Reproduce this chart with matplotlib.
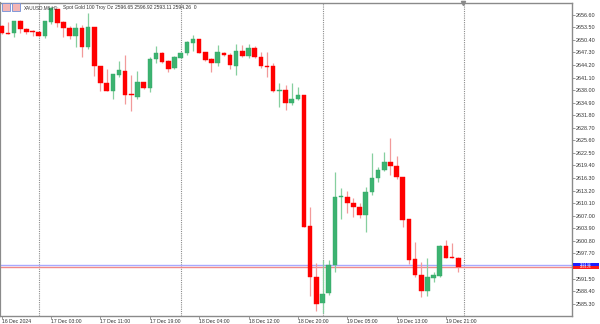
"""
XAUUSD H1 캔들 차트 재현 (MT5 스타일)
- OHLC 값은 스크린샷에서 읽은 값
- 결과: out.png (600x324)
"""

import numpy as np
import matplotlib

matplotlib.use("Agg")
import matplotlib.pyplot as plt
from matplotlib.patches import Rectangle
from matplotlib.transforms import blended_transform_factory

# ── 데이터 (16 Dec 18:00 ~ 19 Dec 23:00, 1시간봉 75개) ──
opens = [2653.82, 2652.02, 2652.02, 2655.05, 2653.00, 2652.51, 2652.34, 2651.42, 2654.88, 2657.94,
         2654.73, 2653.40, 2651.42, 2653.40, 2648.56, 2653.57, 2644.02, 2639.68, 2637.85, 2641.73,
         2642.79, 2636.75, 2636.37, 2639.93, 2638.45, 2645.67, 2647.08, 2645.18, 2643.38, 2645.99,
         2647.23, 2649.70, 2650.68, 2647.33, 2645.60, 2644.76, 2647.15, 2646.59, 2643.95, 2647.65,
         2646.49, 2648.31, 2646.09, 2643.90, 2643.87, 2637.78, 2638.03, 2634.75, 2635.73, 2636.79,
         2604.48, 2591.97, 2585.41, 2587.87, 2594.86, 2611.63, 2611.70, 2610.07, 2609.09, 2607.11,
         2612.79, 2616.39, 2618.29, 2620.19, 2619.35, 2616.64, 2606.13, 2596.33, 2592.39, 2588.52,
         2591.58, 2592.22, 2599.62, 2596.66, 2596.65]
highs = [2654.00, 2654.88, 2655.17, 2655.30, 2653.32, 2652.83, 2652.34, 2655.17, 2658.43, 2658.01,
         2655.05, 2653.82, 2654.48, 2654.06, 2656.95, 2653.57, 2644.02, 2643.14, 2641.97, 2645.18,
         2646.66, 2641.73, 2642.71, 2640.10, 2646.24, 2648.88, 2647.33, 2645.43, 2646.40, 2647.40,
         2650.20, 2651.60, 2650.68, 2647.33, 2645.85, 2649.13, 2647.40, 2647.08, 2649.38, 2649.13,
         2649.38, 2649.00, 2647.33, 2647.33, 2644.61, 2639.68, 2639.26, 2639.68, 2638.84, 2636.79,
         2609.24, 2595.27, 2596.00, 2596.09, 2617.87, 2613.77, 2613.11, 2611.31, 2610.22, 2614.02,
         2622.41, 2618.96, 2622.81, 2626.11, 2621.75, 2616.64, 2606.13, 2600.60, 2595.67, 2596.51,
         2593.20, 2599.80, 2601.02, 2600.21, 2596.92]
lows = [2651.90, 2651.72, 2651.10, 2652.02, 2651.77, 2651.35, 2651.35, 2650.78, 2654.31, 2653.50,
        2651.03, 2650.61, 2648.71, 2646.09, 2648.07, 2641.48, 2637.85, 2637.85, 2635.81, 2641.16,
        2634.50, 2632.85, 2635.73, 2638.30, 2637.61, 2644.76, 2644.76, 2642.50, 2643.10, 2645.80,
        2646.70, 2647.72, 2647.10, 2645.30, 2642.39, 2643.87, 2646.40, 2643.14, 2641.73, 2646.24,
        2645.85, 2645.85, 2643.38, 2641.31, 2637.61, 2633.76, 2633.09, 2634.33, 2635.56, 2604.30,
        2587.21, 2583.60, 2582.90, 2587.40, 2593.20, 2606.13, 2607.61, 2606.77, 2606.37, 2603.07,
        2612.12, 2615.40, 2618.12, 2617.06, 2616.00, 2604.30, 2595.10, 2591.97, 2586.89, 2587.21,
        2590.74, 2592.00, 2596.51, 2596.51, 2593.11]
closes = [2652.09, 2651.77, 2655.12, 2653.08, 2652.41, 2652.41, 2651.42, 2655.05, 2658.18, 2654.63,
          2653.40, 2651.42, 2653.40, 2648.56, 2653.50, 2644.02, 2639.68, 2637.85, 2641.97, 2642.89,
          2636.79, 2636.68, 2639.93, 2638.59, 2645.67, 2647.08, 2645.01, 2643.14, 2646.09, 2647.23,
          2649.79, 2650.68, 2647.23, 2645.43, 2644.76, 2647.33, 2646.59, 2644.27, 2647.72, 2646.49,
          2648.39, 2646.09, 2643.95, 2643.80, 2637.78, 2638.03, 2634.75, 2635.73, 2636.79, 2604.30,
          2591.97, 2585.16, 2587.70, 2594.86, 2611.70, 2611.88, 2610.22, 2609.09, 2607.11, 2612.79,
          2616.39, 2618.29, 2620.27, 2619.35, 2616.64, 2605.96, 2596.09, 2592.39, 2588.52, 2591.82,
          2592.39, 2599.62, 2596.66, 2596.51, 2594.26]

x_tick_pos = [0, 8, 16, 24, 32, 40, 48, 56, 64, 72]
x_tick_labels = ["16 Dec 2024", "17 Dec 03:00", "17 Dec 11:00", "17 Dec 19:00", "18 Dec 04:00",
                 "18 Dec 12:00", "18 Dec 20:00", "19 Dec 05:00", "19 Dec 13:00", "19 Dec 21:00"]
day_breaks = [6, 29, 52, 75]  # 각 날짜 01:00 봉

y_ticks = [2656.60, 2653.50, 2650.40, 2647.30, 2644.20, 2641.10, 2638.00, 2634.90, 2631.80,
           2628.70, 2625.60, 2622.50, 2619.40, 2616.30, 2613.20, 2610.10, 2607.00, 2603.90,
           2600.80, 2597.70, 2591.50, 2588.40, 2585.30]

ask_price = 2594.96
bid_price = 2594.26
symbol = "XAUUSD.M6,H1:"
description = "Spot Gold 100 Troy Oz"
ohlc_text = "2596.65 2596.92 2593.11 2594.26  0"

# ── 스타일 ──
UP = "#3cb371"
DOWN = "#ff0000"
UP_WICK = "#86cf9f"
DOWN_WICK = "#f29a9a"
FRAME = "#8a8a8a"
TXT = "#333333"

plt.rcParams["font.family"] = ["Liberation Sans", "DejaVu Sans"]

fig = plt.figure(figsize=(6.0, 3.24), dpi=100)
ax = fig.add_axes([0.0, 1 - 316 / 324, 572 / 600, 313 / 324])

o = np.array(opens)
h = np.array(highs)
l = np.array(lows)
c = np.array(closes)
idx = np.arange(len(o))
up = c >= o

# 꼬리
ax.vlines(idx[up], l[up], h[up], color=UP_WICK, lw=0.9, zorder=2)
ax.vlines(idx[~up], l[~up], h[~up], color=DOWN_WICK, lw=0.9, zorder=2)

# 몸통 (도지는 최소 높이 1px 정도)
bottom = np.minimum(o, c)
height = np.maximum(np.abs(c - o), 0.25)
ax.bar(idx[up], height[up], bottom=bottom[up], width=0.74, color=UP,
       edgecolor="#34a866", linewidth=0.3, zorder=3)
ax.bar(idx[~up], height[~up], bottom=bottom[~up], width=0.74, color=DOWN,
       edgecolor=DOWN, linewidth=0.3, zorder=3)

# 날짜 구분선
for d in day_breaks:
    ax.axvline(d, color="#8c8c8c", lw=0.8, ls=(0, (1.0, 1.0)), zorder=1)

# 가격선
ax.axhline(ask_price, color="#a9a9ff", lw=1.0, zorder=1)
ax.axhline(bid_price, color="#f08a8a", lw=1.0, zorder=1)

ax.set_xlim(-0.28, 92.43)
ax.set_ylim(2582.27, 2659.49)

for s in ax.spines.values():
    s.set_color(FRAME)
    s.set_linewidth(1.0)
ax.spines["left"].set_linewidth(1.6)

ax.yaxis.tick_right()
ax.set_yticks(y_ticks)
ax.set_yticklabels([f"{v:.2f}" for v in y_ticks])
ax.tick_params(axis="y", direction="out", length=2, width=0.6, color=FRAME,
               pad=0.6, labelsize=3.9, labelcolor=TXT)
ax.set_xticks(x_tick_pos)
ax.set_xticklabels(x_tick_labels, ha="left")
ax.tick_params(axis="x", direction="out", length=2, width=0.6, color=FRAME,
               pad=0.5, labelsize=3.7, labelcolor=TXT)

# 우측 가격 라벨 (박스 높이 약 3.4px)
tr = blended_transform_factory(ax.transAxes, ax.transData)
box_h = 0.84
for price, col, z in [(ask_price, "#1f1fff", 5), (bid_price, "#ff1a1a", 6)]:
    ax.add_patch(Rectangle((1.0018, price - box_h / 2), 26 / 572, box_h, transform=tr,
                           fc=col, ec="none", clip_on=False, zorder=z))
    ax.text(1.0018 + 13 / 572, price, f"{price:.2f}", transform=tr, fontsize=2.3,
            color="white", va="center", ha="center", clip_on=False, zorder=z)

# 차트 시프트 표시
ax.plot([74.7], [2659.49], marker="v", ms=3, color="#8a8a8a", clip_on=False, zorder=6)

# 헤더 아이콘 + 텍스트
fig.patches.append(Rectangle((2 / 600, 1 - 11 / 324), 8 / 600, 8 / 324, transform=fig.transFigure,
                             fc="#f3b5b5", ec="#6f8fd8", lw=0.6))
fig.patches.append(Rectangle((12 / 600, 1 - 11 / 324), 8 / 600, 8 / 324, transform=fig.transFigure,
                             fc="#f3b5b5", ec="#6f8fd8", lw=0.6))
hy = 1 - 7.5 / 324
fig.text(24 / 600, hy, symbol, fontsize=3.3, color=TXT, va="center", ha="left")
fig.text(63 / 600, hy, description, fontsize=3.5, color=TXT, va="center", ha="left")
fig.text(115 / 600, hy, ohlc_text, fontsize=3.6, color=TXT, va="center", ha="left")

fig.savefig("out.png", dpi=100, facecolor="white")
plt.close(fig)
